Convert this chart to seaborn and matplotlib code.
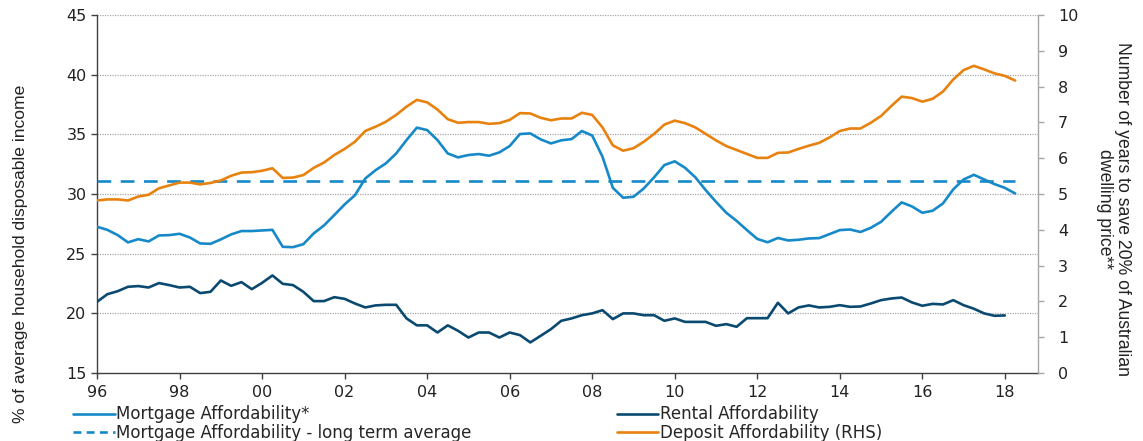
import numpy as np
import pandas as pd
import matplotlib
matplotlib.use("Agg")
import matplotlib.pyplot as plt
import seaborn as sns
from matplotlib.lines import Line2D

# ---------------- data (quarterly, 1996Q1 onwards) ----------------
mortgage = [27.26, 27.0, 26.56, 25.95, 26.22, 26.03, 26.53, 26.56, 26.67, 26.36,
            25.86, 25.83, 26.2, 26.62, 26.9, 26.9, 26.95, 27.0, 25.58, 25.55,
            25.8, 26.7, 27.37, 28.24, 29.13, 29.9, 31.3, 32.0, 32.57, 33.4,
            34.52, 35.56, 35.36, 34.52, 33.4, 33.07, 33.27, 33.35, 33.21, 33.49,
            34.02, 35.03, 35.08, 34.58, 34.24, 34.5, 34.6, 35.28, 34.9, 33.12,
            30.52, 29.69, 29.77, 30.47, 31.4, 32.43, 32.74,
            32.2, 31.4, 30.33, 29.35, 28.43, 27.75, 26.98, 26.24, 25.96, 26.32,
            26.11, 26.17, 26.28, 26.31, 26.64, 26.98, 27.03, 26.82,
            27.17, 27.67, 28.51, 29.3, 28.96, 28.43, 28.6, 29.21, 30.39, 31.22,
            31.61, 31.22, 30.83, 30.52, 30.05]

rental = [20.97, 21.61, 21.86, 22.23, 22.29, 22.17, 22.54, 22.37, 22.17, 22.23,
          21.7, 21.81, 22.76, 22.31, 22.62, 22.03, 22.56, 23.18, 22.48, 22.37,
          21.81, 21.03, 21.03, 21.36, 21.22, 20.83, 20.5, 20.67, 20.72, 20.72,
          19.58, 19.0, 19.0, 18.4, 19.0, 18.54, 17.98, 18.4, 18.4, 17.98,
          18.4, 18.18, 17.57, 18.12, 18.68, 19.38, 19.58, 19.85, 20.0, 20.27,
          19.52, 20.0, 20.0, 19.85, 19.85, 19.38, 19.58,
          19.29, 19.29, 19.29, 18.96, 19.1, 18.88, 19.6, 19.6, 19.6, 20.89,
          20.0, 20.5, 20.67, 20.5, 20.55, 20.69, 20.55, 20.58,
          20.83, 21.11, 21.25, 21.33, 20.92, 20.64, 20.8, 20.75, 21.11, 20.69,
          20.39, 20.0, 19.8, 19.83]

deposit = [4.82, 4.85, 4.85, 4.82, 4.93, 4.98, 5.16, 5.24, 5.32, 5.32,
           5.27, 5.31, 5.38, 5.51, 5.6, 5.61, 5.65, 5.72, 5.45, 5.46,
           5.53, 5.73, 5.88, 6.09, 6.26, 6.46, 6.76, 6.88, 7.02, 7.21,
           7.44, 7.63, 7.56, 7.36, 7.09, 6.99, 7.01, 7.01, 6.96, 6.98,
           7.07, 7.26, 7.25, 7.13, 7.06, 7.11, 7.11, 7.27, 7.21, 6.86,
           6.36, 6.21, 6.28, 6.46, 6.68, 6.94, 7.05,
           6.98, 6.86, 6.68, 6.5, 6.34, 6.23, 6.12, 6.01, 6.01, 6.15,
           6.16, 6.26, 6.35, 6.43, 6.58, 6.76, 6.83, 6.83,
           6.99, 7.18, 7.46, 7.72, 7.68, 7.58, 7.66, 7.86, 8.2, 8.46,
           8.58, 8.48, 8.37, 8.3, 8.17]

mortgage_long_term_avg = 31.1

start_year = 1996
quarters = start_year + np.arange(len(mortgage)) * 0.25
rental_quarters = quarters[:len(rental)]

x_tick_years = list(range(1996, 2019, 2))
x_tick_labels = [f"{y % 100:02d}" for y in x_tick_years]
left_ticks = [15, 20, 25, 30, 35, 40, 45]
right_ticks = list(range(0, 11))

labels = ["Mortgage Affordability*",
          "Mortgage Affordability - long term average",
          "Rental Affordability",
          "Deposit Affordability (RHS)"]

# ---------------- style ----------------
sns.set_theme(style="white")
plt.rcParams['font.family'] = ['DejaVu Sans']

c_mort = "#1689c8"
c_rent = "#0b4a70"
c_dep = "#e8820e"
lw = 1.9

df_m = pd.DataFrame({"q": quarters, "v": mortgage})
df_avg = pd.DataFrame({"q": quarters, "v": [mortgage_long_term_avg] * len(quarters)})
df_r = pd.DataFrame({"q": rental_quarters, "v": rental})
df_d = pd.DataFrame({"q": quarters, "v": deposit})

fig = plt.figure(figsize=(11.43, 4.41), dpi=100)
ax = fig.add_axes([0.0849, 0.154, 0.908 - 0.0849, 0.966 - 0.154])
ax2 = ax.twinx()

sns.lineplot(data=df_m, x="q", y="v", ax=ax, color=c_mort, lw=lw, zorder=3)
sns.lineplot(data=df_avg, x="q", y="v", ax=ax, color=c_mort, lw=lw, zorder=3,
             linestyle=(0, (5.2, 3.6)))
sns.lineplot(data=df_r, x="q", y="v", ax=ax, color=c_rent, lw=lw, zorder=3)
sns.lineplot(data=df_d, x="q", y="v", ax=ax2, color=c_dep, lw=lw, zorder=3)

ax.set_xlim(1996, 2018.8)
ax.set_ylim(15, 45)
ax2.set_ylim(0, 10)
ax.set_xticks(x_tick_years)
ax.set_xticklabels(x_tick_labels)
ax.set_yticks(left_ticks)
ax2.set_yticks(right_ticks)

for a in (ax, ax2):
    a.set_xlabel("")
    a.set_ylabel("")
    a.grid(False)

for t in left_ticks[1:]:
    ax.axhline(t, color="#a8a8a8", lw=0.9, ls=(0, (1, 1)), zorder=1)

dark = "#404040"
ax.spines["top"].set_visible(False)
ax2.spines["top"].set_visible(False)
ax.spines["left"].set_color(dark)
ax.spines["bottom"].set_color(dark)
ax.spines["left"].set_linewidth(1.0)
ax.spines["bottom"].set_linewidth(1.0)
ax2.spines["right"].set_color("#a6a6a6")
ax2.spines["right"].set_linewidth(1.0)
ax2.spines["left"].set_visible(False)
ax2.spines["bottom"].set_visible(False)
ax.spines["right"].set_visible(False)

ax.tick_params(axis="both", which="major", direction="out", length=4.5, width=1.0,
               color=dark, labelsize=11.5, labelcolor="#222222", pad=3)
ax.tick_params(axis="y", left=True, right=False)
ax.tick_params(axis="x", bottom=True, pad=4)
ax2.tick_params(axis="y", direction="out", length=4.5, width=1.0, color="#a6a6a6",
                labelsize=11.5, labelcolor="#222222", right=True, pad=10)

fig.text(0.0175, 0.424, "% of average household disposable income", rotation=90,
         ha="center", va="center", fontsize=12.6, family="Liberation Sans", color="#222222")
fig.text(0.974, 0.525, "Number of years to save 20% of Australian\ndwelling price**",
         rotation=270, ha="center", va="center", fontsize=12.7, family="Liberation Sans",
         color="#222222", linespacing=1.1, multialignment="center")

handles = [Line2D([], [], color=c_mort, lw=lw),
           Line2D([], [], color=c_mort, lw=lw, linestyle=(0, (3.0, 2.0))),
           Line2D([], [], color=c_rent, lw=lw),
           Line2D([], [], color=c_dep, lw=lw)]
fig.legend(handles, labels, ncol=2, loc="lower left", bbox_to_anchor=(0.058, -0.018),
           frameon=False, fontsize=12, handlelength=2.5, handletextpad=0.1,
           columnspacing=8.7, labelspacing=0.05, borderaxespad=0.0)

fig.savefig("out.png", dpi=100)
